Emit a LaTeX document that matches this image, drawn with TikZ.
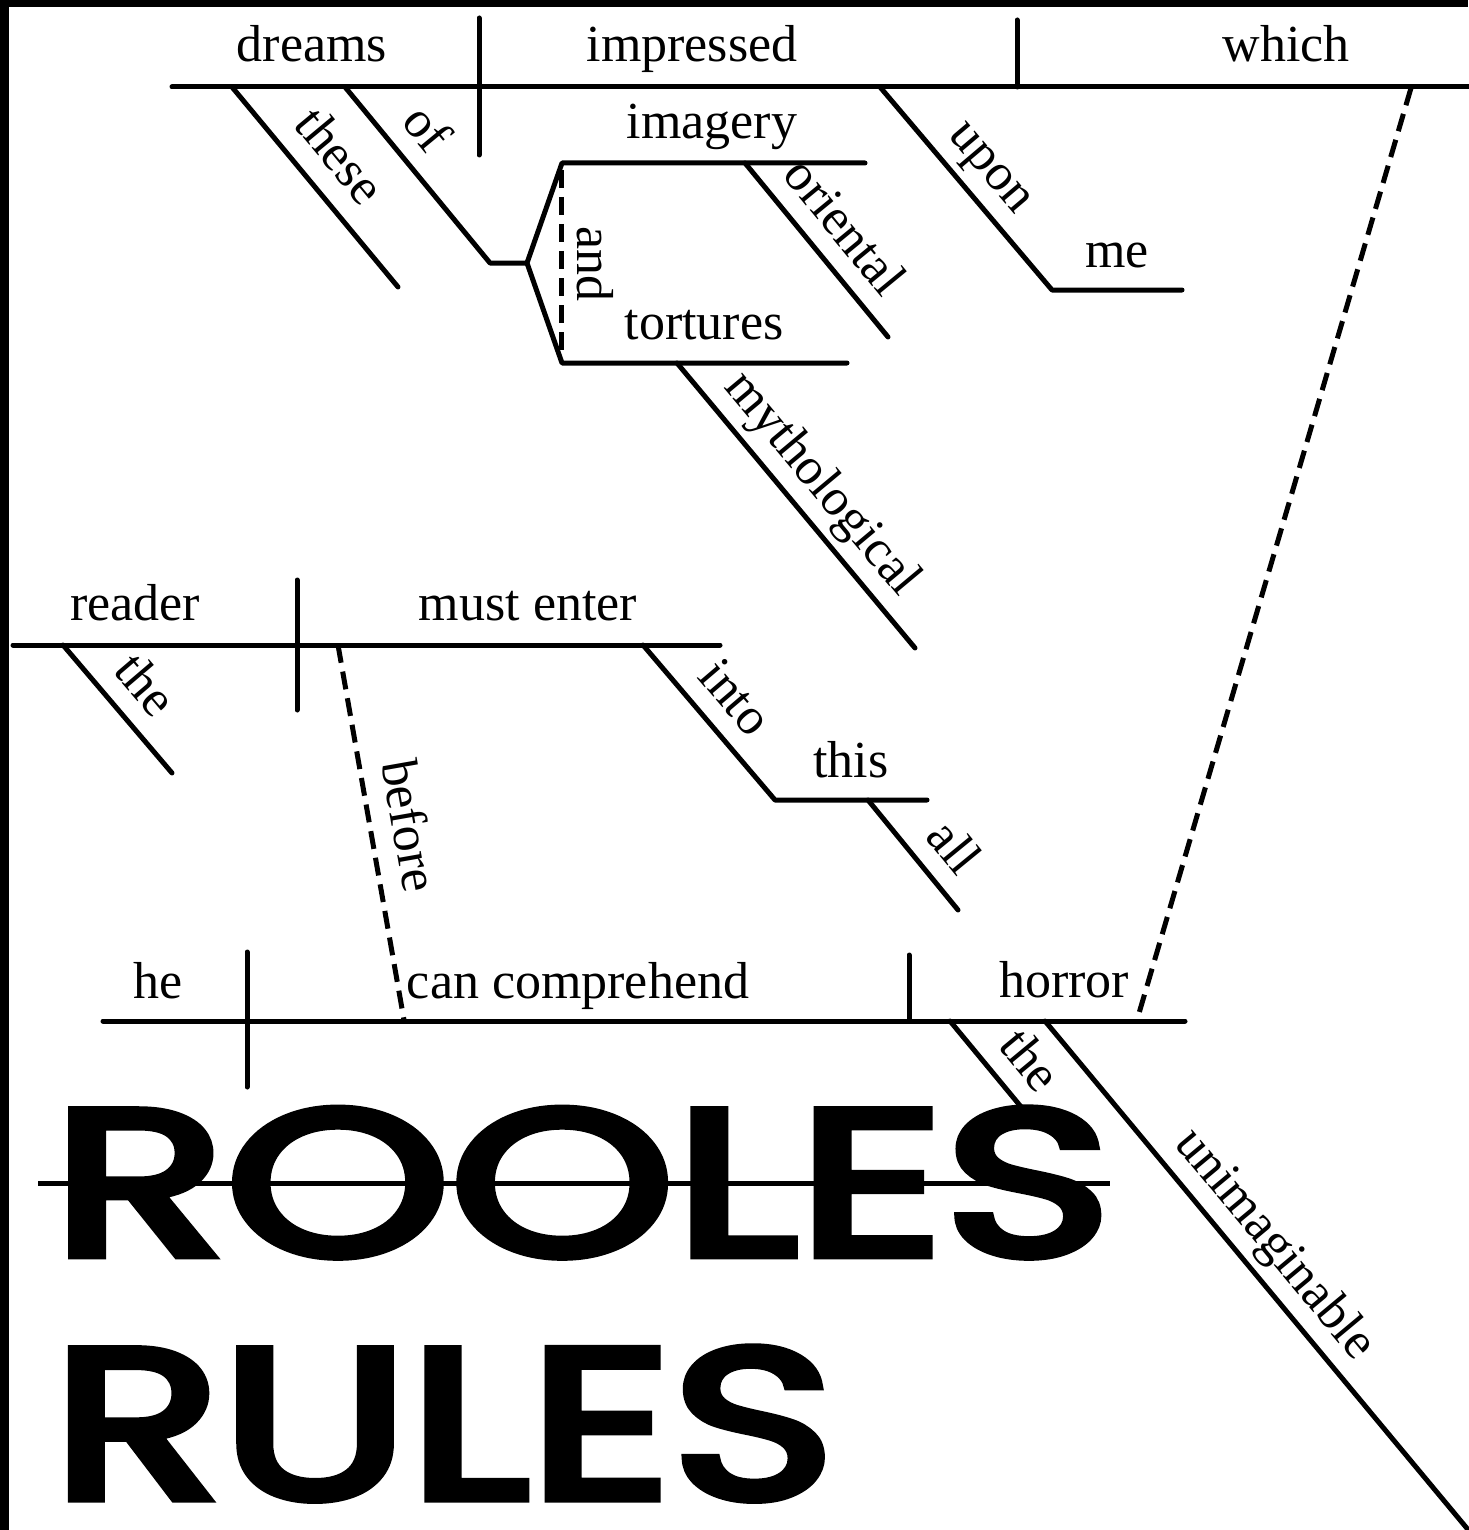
\documentclass[tikz,border=0pt]{standalone}
\usepackage{fontspec}
\usepackage{graphicx}
\usetikzlibrary{calc}
\setmainfont{Liberation Serif}
\newfontfamily\bigfont{Poppins}[FakeBold=4.2]
\begin{document}
\begin{tikzpicture}[x=1pt,y=-1pt,
  ln/.style={line width=5pt, line cap=round, line join=round},
  dln/.style={line width=5pt, dash pattern=on 18pt off 9pt},
  wd/.style={font=\fontsize{52}{62}\selectfont, inner sep=0pt, anchor=base},
  lab/.style={sloped, anchor=base, inner sep=0pt, font=\fontsize{52}{62}\selectfont}]
\useasboundingbox (0,0) rectangle (1468,1530);
\fill[white] (0,0) rectangle (1468,1530);
% border bands
\fill[black] (0,0) rectangle (1468,7);
\fill[black] (0,0) rectangle (9,1530);

% ---------- clause 1 ----------
\coordinate (m1a) at (172,87);   \coordinate (m1b) at (1470,87);
\coordinate (d1a) at (479,18);   \coordinate (d1b) at (479,155);
\coordinate (d2a) at (1017,20);  \coordinate (d2b) at (1017,87);
\coordinate (th1) at (232,87);   \coordinate (th2) at (398,287);
\coordinate (of1) at (345,87);   \coordinate (of2) at (490,263);
\coordinate (fk)  at (527,263);
\coordinate (imA) at (562,163);  \coordinate (imB) at (865,163);
\coordinate (toA) at (562,363);  \coordinate (toB) at (847,363);
\coordinate (an1) at (561,170);  \coordinate (an2) at (561,358);
\coordinate (or1) at (745,163);  \coordinate (or2) at (888,337);
\coordinate (my1) at (677,363);  \coordinate (my2) at (915,648);
\coordinate (up1) at (880,87);   \coordinate (up2) at (1052,290);
\coordinate (meB) at (1182,290);
\coordinate (wh1) at (1411,88);  \coordinate (wh2) at (1137,1020);

\draw[ln] (m1a) -- (m1b);
\draw[ln] (d1a) -- (d1b);
\draw[ln] (d2a) -- (d2b);
\draw[ln] (th1) -- (th2);
\draw[ln] (of1) -- (of2) -- (fk);
\draw[ln] (imB) -- (imA) -- (fk) -- (toA) -- (toB);
\draw[dln] (an1) -- (an2);
\draw[ln] (or1) -- (or2);
\draw[ln] (my1) -- (my2);
\draw[ln] (up1) -- (up2) -- (meB);
\draw[dln] (wh1) -- (wh2);

\node[wd] (wDreams) at (312,62) {dreams};
\node[wd] (wImpressed) at (692,62) {impressed};
\node[wd] (wWhich) at (1286,62) {which};
\node[wd] (wImagery) at (712,139) {imagery};
\node[wd] (wTortures) at (704,339) {tortures};
\node[wd] (wMe) at (1117,267) {me};

\path ($(th1)!22pt!90:(th2)$) -- ($(th2)!22pt!-90:(th1)$) node[lab, pos=0.47] (lThese) {these};
\path ($(of1)!20pt!90:(of2)$) -- ($(of2)!20pt!-90:(of1)$) node[lab, pos=0.37] (lOf) {of};
\path ($(an1)!16pt!90:(an2)$) -- ($(an2)!16pt!-90:(an1)$) node[lab, pos=0.5] (lAnd) {and};
\path ($(or1)!20pt!90:(or2)$) -- ($(or2)!20pt!-90:(or1)$) node[lab, pos=0.5] (lOriental) {oriental};
\path ($(my1)!20pt!90:(my2)$) -- ($(my2)!20pt!-90:(my1)$) node[lab, pos=0.5] (lMyth) {mythological};
\path ($(up1)!20pt!90:(up2)$) -- ($(up2)!20pt!-90:(up1)$) node[lab, pos=0.5] (lUpon) {upon};

% ---------- clause 2 ----------
\coordinate (m2a) at (13,645);   \coordinate (m2b) at (720,645);
\coordinate (d3a) at (297,580);  \coordinate (d3b) at (297,710);
\coordinate (te1) at (63,645);   \coordinate (te2) at (172,773);
\coordinate (be1) at (338,645);  \coordinate (be2) at (404,1020);
\coordinate (in1) at (643,645);  \coordinate (in2) at (775,800);
\coordinate (thB) at (927,800);
\coordinate (al1) at (868,800);  \coordinate (al2) at (958,910);

\draw[ln] (m2a) -- (m2b);
\draw[ln] (d3a) -- (d3b);
\draw[ln] (te1) -- (te2);
\draw[dln] (be1) -- (be2);
\draw[ln] (in1) -- (in2) -- (thB);
\draw[ln] (al1) -- (al2);

\node[wd] (wReader) at (135,620) {reader};
\node[wd] (wMust) at (528,620) {must enter};
\node[wd] (wThis) at (851,777) {this};

\path ($(te1)!20pt!90:(te2)$) -- ($(te2)!20pt!-90:(te1)$) node[lab, pos=0.5] (lThe1) {the};
\path ($(be1)!22pt!90:(be2)$) -- ($(be2)!22pt!-90:(be1)$) node[lab, pos=0.5] (lBefore) {before};
\path ($(in1)!20pt!90:(in2)$) -- ($(in2)!20pt!-90:(in1)$) node[lab, pos=0.49] (lInto) {into};
\path ($(al1)!20pt!90:(al2)$) -- ($(al2)!20pt!-90:(al1)$) node[lab, pos=0.64] (lAll) {all};

% ---------- clause 3 ----------
\coordinate (m3a) at (103,1021); \coordinate (m3b) at (1185,1021);
\coordinate (d4a) at (247,952);  \coordinate (d4b) at (247,1087);
\coordinate (d5a) at (909,955);  \coordinate (d5b) at (909,1021);
\coordinate (tf1) at (950,1021); \coordinate (tf2) at (1022,1108);
\coordinate (un1) at (1045,1021);\coordinate (un2) at (1470,1532);

\draw[ln] (m3a) -- (m3b);
\draw[ln] (d4a) -- (d4b);
\draw[ln] (d5a) -- (d5b);
\draw[ln] (tf1) -- (tf2);
\draw[ln] (un1) -- (un2);

\node[wd] (wHe) at (158,998) {he};
\node[wd] (wCan) at (578,998) {can comprehend};
\node[wd] (wHorror) at (1064,997) {horror};

\path ($(tf1)!20pt!90:(tf2)$) -- ($(tf2)!20pt!-90:(tf1)$) node[lab, pos=0.72] (lThe2) {the};
\path ($(un1)!20pt!90:(un2)$) -- ($(un2)!20pt!-90:(un1)$) node[lab, pos=0.48] (lUnim) {unimaginable};

% ---------- title ----------
\node[anchor=base west, inner sep=0pt] (rooles) at (52,1255)
  {\resizebox{1056pt}{146pt}{\bigfont ROOLES}};
\coordinate (st1) at (38,1183); \coordinate (st2) at (1110,1183);
\draw[line width=5pt] (st1) -- (st2);
\node[anchor=base west, inner sep=0pt] (rules) at (52,1498)
  {\resizebox{782pt}{150pt}{\bigfont RULES}};
\end{tikzpicture}
\end{document}
